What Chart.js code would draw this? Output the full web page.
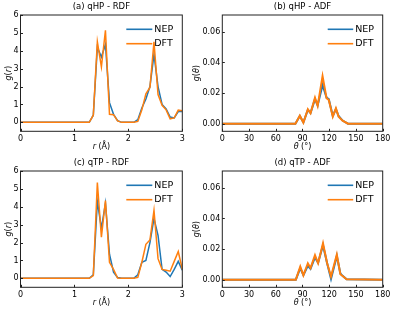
<!DOCTYPE html>
<html>
<head>
<meta charset="utf-8">
<script src="https://cdn.jsdelivr.net/npm/chart.js@4.4.0/dist/chart.umd.min.js"></script>
<style>
  html, body { margin: 0; padding: 0; background: #fff; }
  #wrap { position: relative; width: 396px; height: 312px; }
  .panel { position: absolute; height: 156px; }
</style>
</head>
<body>
<div id="wrap">
  <div class="panel" style="left:0;top:0;width:198px"><canvas id="pa" width="198" height="156"></canvas></div>
  <div class="panel" style="left:186px;top:0;width:210px"><canvas id="pb" width="210" height="156"></canvas></div>
  <div class="panel" style="left:0;top:156px;width:198px"><canvas id="pc" width="198" height="156"></canvas></div>
  <div class="panel" style="left:186px;top:156px;width:210px"><canvas id="pd" width="210" height="156"></canvas></div>
</div>
<script>
// radial grid (Å)
const rGrid = [0, 0.075, 0.15, 0.225, 0.3, 0.375, 0.45, 0.525, 0.6, 0.675, 0.75, 0.825, 0.9, 0.975,
  1.05, 1.125, 1.2, 1.275, 1.35, 1.425, 1.5, 1.575, 1.65, 1.725, 1.8, 1.875, 1.95, 2.025, 2.1,
  2.175, 2.25, 2.325, 2.4, 2.475, 2.55, 2.625, 2.7, 2.775, 2.85, 2.925, 3.0];

const rdfNepHP = [0, 0, 0, 0, 0, 0, 0, 0, 0, 0, 0, 0, 0, 0, 0, 0, 0, 0,
  0.4, 4.2, 3.65, 4.35, 1.1, 0.45, 0.1, 0, 0, 0, 0,
  0.15, 0.8, 1.3, 2.0, 3.8, 2.0, 1.0, 0.75, 0.3, 0.25, 0.6, 0.6];
const rdfDftHP = [0, 0, 0, 0, 0, 0, 0, 0, 0, 0, 0, 0, 0, 0, 0, 0, 0, 0,
  0.4, 4.5, 3.1, 5.15, 0.45, 0.43, 0.08, 0, 0, 0, 0,
  0.05, 0.7, 1.6, 1.95, 4.5, 1.55, 0.95, 0.7, 0.2, 0.25, 0.68, 0.65];
const rdfNepTP = [0, 0, 0, 0, 0, 0, 0, 0, 0, 0, 0, 0, 0, 0, 0, 0, 0, 0,
  0.2, 4.3, 2.8, 4.2, 1.35, 0.35, 0.05, 0, 0, 0, 0,
  0.2, 0.9, 1.0, 2.0, 3.35, 2.4, 0.5, 0.35, 0.1, 0.5, 0.95, 0.45];
const rdfDftTP = [0, 0, 0, 0, 0, 0, 0, 0, 0, 0, 0, 0, 0, 0, 0, 0, 0, 0,
  0.15, 5.35, 2.3, 4.35, 0.9, 0.5, 0.02, 0, 0, 0, 0,
  0.05, 0.9, 1.9, 2.15, 3.8, 1.1, 0.5, 0.45, 0.4, 0.95, 1.5, 0.5];

// angular distributions (degrees)
const thetaHP = [0, 82, 87, 91, 96, 99, 104, 107, 112.5, 117, 119.5, 124, 127.5, 130.5, 135, 141, 180];
const adfNepHP = [0, 0, 0.005, 0.0008, 0.009, 0.007, 0.016, 0.012, 0.0253, 0.017, 0.016, 0.005, 0.0095, 0.005, 0.002, 0, 0];
const adfDftHP = [0, 0, 0.0052, 0.0007, 0.0094, 0.0068, 0.017, 0.0116, 0.031, 0.0166, 0.0155, 0.0046, 0.010, 0.0046, 0.002, 0, 0];

const thetaTP = [0, 82.5, 87.5, 91, 96, 99, 104, 107.5, 113, 117.5, 122, 128.5, 132.5, 135, 139.5, 180];
const adfNepTP = [0, 0, 0.0075, 0.003, 0.009, 0.007, 0.0145, 0.011, 0.0225, 0.011, 0.0005, 0.0155, 0.004, 0.0025, 0.0002, 0];
const adfDftTP = [0, 0, 0.0085, 0.0028, 0.0107, 0.0076, 0.016, 0.0107, 0.0238, 0.011, 0.002, 0.0163, 0.0035, 0.0024, 0.0002, 0];

const rdfXTicks = [0, 1, 2, 3];
const rdfYTicks = [0, 1, 2, 3, 4, 5, 6];
const adfXTicks = [0, 30, 60, 90, 120, 150, 180];
const adfYTicks = [0, 0.02, 0.04, 0.06];

const seriesNames = ["NEP", "DFT"];
const BLUE = "#1f77b4";
const ORANGE = "#ff7f0e";
const FONT = "'DejaVu Sans', sans-serif";

const pts = (xs, ys) => xs.map((x, i) => ({ x: x, y: ys[i] }));

// draws text made of italic / upright pieces, centred on (x, y)
function mixedText(ctx, parts, x, y, size) {
  let w = 0;
  for (const p of parts) {
    ctx.font = (p.i ? "italic " : "") + size + "px " + FONT;
    w += ctx.measureText(p.t).width;
  }
  let cx = x - w / 2;
  ctx.textAlign = "left";
  ctx.textBaseline = "middle";
  for (const p of parts) {
    ctx.font = (p.i ? "italic " : "") + size + "px " + FONT;
    ctx.fillText(p.t, cx, y);
    cx += ctx.measureText(p.t).width;
  }
}

// frame, inward ticks, titles and legend
function decorations(cfg) {
  return {
    id: "deco",
    afterDraw(chart) {
      const ctx = chart.ctx;
      const a = chart.chartArea;
      const xs = chart.scales.x, ys = chart.scales.y;
      ctx.save();
      ctx.strokeStyle = "#222";
      ctx.lineWidth = 1;
      ctx.beginPath();
      for (const t of xs.ticks) {
        const px = Math.round(xs.getPixelForValue(t.value)) + 0.5;
        ctx.moveTo(px, a.bottom);
        ctx.lineTo(px, a.bottom - 2.5);
      }
      for (const t of ys.ticks) {
        const py = Math.round(ys.getPixelForValue(t.value)) + 0.5;
        ctx.moveTo(a.left, py);
        ctx.lineTo(a.left + 2.5, py);
      }
      ctx.stroke();
      ctx.strokeRect(a.left, a.top, a.right - a.left, a.bottom - a.top);

      ctx.fillStyle = "#000";
      ctx.font = "8.5px " + FONT;
      ctx.textAlign = "center";
      ctx.textBaseline = "middle";
      ctx.fillText(cfg.title, (a.left + a.right) / 2, a.top - 8);

      mixedText(ctx, cfg.xLabel, (a.left + a.right) / 2, a.bottom + 15.5, 8);
      ctx.save();
      ctx.translate(cfg.yLabelX, (a.top + a.bottom) / 2);
      ctx.rotate(-Math.PI / 2);
      mixedText(ctx, cfg.yLabel, 0, 0, 8);
      ctx.restore();

      // legend
      const colors = [BLUE, ORANGE];
      ctx.lineWidth = 1.6;
      ctx.font = "9.5px " + FONT;
      ctx.textAlign = "left";
      ctx.textBaseline = "middle";
      seriesNames.forEach((name, k) => {
        const y = a.top + 14.3 + k * 14.4;
        ctx.strokeStyle = colors[k];
        ctx.beginPath();
        ctx.moveTo(a.right - cfg.legendLine, y);
        ctx.lineTo(a.right - cfg.legendText - 2, y);
        ctx.stroke();
        ctx.fillStyle = "#000";
        ctx.fillText(name, a.right - cfg.legendText, y);
      });
      ctx.restore();
    }
  };
}

function makePanel(id, opt) {
  const width = opt.lineWidth;
  new Chart(document.getElementById(id), {
    type: "line",
    data: {
      datasets: [
        { label: seriesNames[0], data: pts(opt.xs, opt.nep), borderColor: BLUE, borderWidth: width,
          pointRadius: 0, tension: 0, order: 2 },
        { label: seriesNames[1], data: pts(opt.xs, opt.dft), borderColor: ORANGE, borderWidth: width,
          pointRadius: 0, tension: 0, order: 1 }
      ]
    },
    options: {
      responsive: false,
      animation: false,
      events: [],
      layout: { padding: { left: 0, top: 15, right: opt.padRight, bottom: 0 } },
      plugins: { legend: { display: false }, tooltip: { enabled: false }, title: { display: false } },
      scales: {
        x: {
          type: "linear", min: opt.xMin, max: opt.xMax,
          afterBuildTicks: (s) => { s.ticks = opt.xTicks.map((v) => ({ value: v })); },
          afterFit: (s) => { s.height = 24.7; },
          grid: { display: false, drawTicks: false },
          border: { display: false },
          ticks: { padding: 2.5, color: "#000", font: { family: FONT, size: 8 }, maxRotation: 0 }
        },
        y: {
          type: "linear", min: opt.yMin, max: opt.yMax,
          afterBuildTicks: (s) => { s.ticks = opt.yTicks.map((v) => ({ value: v })); },
          afterFit: (s) => { s.width = opt.axisWidth; },
          grid: { display: false, drawTicks: false },
          border: { display: false },
          ticks: { padding: 2, color: "#000", font: { family: FONT, size: 8 }, callback: opt.yFmt }
        }
      }
    },
    plugins: [decorations(opt)]
  });
}

const rdfBase = {
  xs: rGrid, xMin: 0, xMax: 3, yMin: -0.5, yMax: 6, xTicks: rdfXTicks, yTicks: rdfYTicks,
  axisWidth: 20.5, padRight: 15.7, lineWidth: 1.5, yLabelX: 9,
  yFmt: (v) => String(v), legendLine: 56, legendText: 28,
  xLabel: [{ t: "r", i: true }, { t: " (Å)" }],
  yLabel: [{ t: "g", i: true }, { t: "(" }, { t: "r", i: true }, { t: ")" }]
};
// ADF canvases start 12px left of the centre line so the y title is not cut off
const adfBase = {
  xMin: 0, xMax: 180, yMin: -0.005, yMax: 0.071, xTicks: adfXTicks, yTicks: adfYTicks,
  axisWidth: 36.3, padRight: 13.3, lineWidth: 2, yLabelX: 11,
  yFmt: (v) => v.toFixed(2), legendLine: 55, legendText: 27.5,
  xLabel: [{ t: "θ", i: true }, { t: " (°)" }],
  yLabel: [{ t: "g", i: true }, { t: "(" }, { t: "θ", i: true }, { t: ")" }]
};

makePanel("pa", Object.assign({}, rdfBase, { nep: rdfNepHP, dft: rdfDftHP, title: "(a) qHP - RDF" }));
makePanel("pb", Object.assign({}, adfBase, { xs: thetaHP, nep: adfNepHP, dft: adfDftHP, title: "(b) qHP - ADF" }));
makePanel("pc", Object.assign({}, rdfBase, { nep: rdfNepTP, dft: rdfDftTP, title: "(c) qTP - RDF" }));
makePanel("pd", Object.assign({}, adfBase, { xs: thetaTP, nep: adfNepTP, dft: adfDftTP, title: "(d) qTP - ADF" }));
</script>
</body>
</html>
